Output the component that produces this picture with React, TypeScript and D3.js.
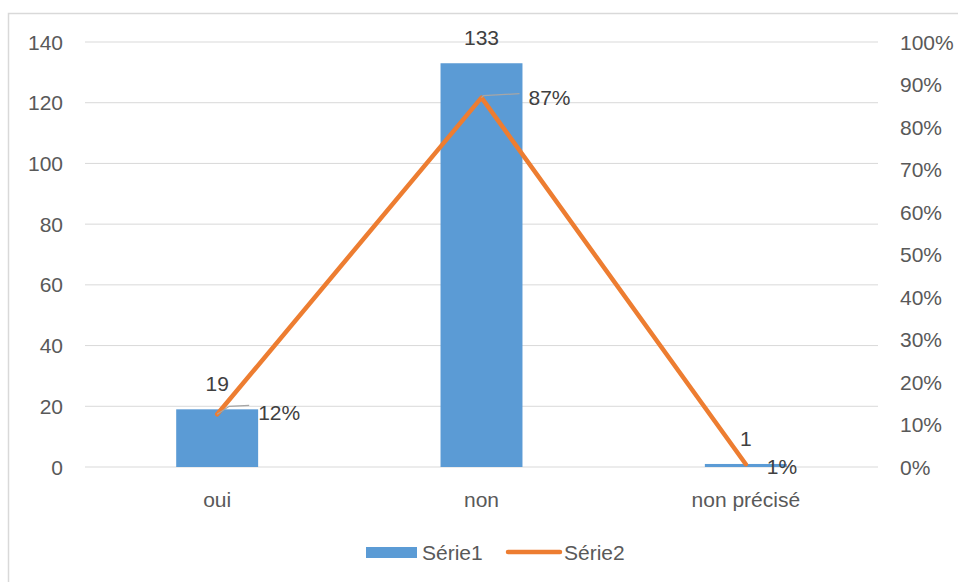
import React from "react";
import * as d3 from "d3";

const categories = ["oui", "non", "non précisé"];
const serie1 = [19, 133, 1];
const serie2 = [0.124, 0.869, 0.0065];
const serie2Labels = ["12%", "87%", "1%"];
const leftTicks = [0, 20, 40, 60, 80, 100, 120, 140];
const rightTicks = [0, 0.1, 0.2, 0.3, 0.4, 0.5, 0.6, 0.7, 0.8, 0.9, 1];
const legendLabels = ["Série1", "Série2"];

const W = 958;
const H = 582;
const plotLeft = 85;
const plotRight = 878;
const plotTop = 42;
const plotBottom = 467;
const FONT = "'Liberation Sans', Arial, sans-serif";
const TEXT = "#595959";
const BLUE = "#5B9BD5";
const ORANGE = "#ED7D31";

export default function App() {
  const x = d3.scaleBand<string>().domain(categories).range([plotLeft, plotRight]).paddingInner(0).paddingOuter(0);
  const yL = d3.scaleLinear().domain([0, 140]).range([plotBottom, plotTop]);
  const yR = d3.scaleLinear().domain([0, 1]).range([plotBottom, plotTop]);
  const barW = x.bandwidth() * 0.31;
  const cx = (c: string) => (x(c) as number) + x.bandwidth() / 2;
  const line = d3
    .line<number>()
    .x((_, i) => cx(categories[i]))
    .y((d) => yR(d));
  const pct = d3.format(".0%");
  const leaders = [
    { dx1: 12, dy1: -8, dx2: 32, dy2: -9, lx: 41, ly: 6 },
    { dx1: 2, dy1: -2, dx2: 38, dy2: -4, lx: 47, ly: 7 },
  ];

  return (
    <svg width={W} height={H} style={{ position: "absolute", left: 0, top: 0 }} fontFamily={FONT}>
      <rect x={0} y={0} width={W} height={H} fill="#fff" />
      <rect x={8.5} y={13.5} width={W + 10} height={H + 10} fill="#fff" stroke="#d9d9d9" strokeWidth={1.5} />
      {leftTicks.map((t) => (
        <g key={"l" + t}>
          <line x1={plotLeft} x2={plotRight} y1={yL(t)} y2={yL(t)} stroke="#d9d9d9" strokeWidth={1} />
          <text x={63} y={yL(t) + 7.5} textAnchor="end" fontSize={21} fill={TEXT}>
            {t}
          </text>
        </g>
      ))}
      {rightTicks.map((t) => (
        <text key={"r" + t} x={900} y={yR(t) + 7.5} textAnchor="start" fontSize={21} fill={TEXT}>
          {pct(t)}
        </text>
      ))}
      {categories.map((c, i) => (
        <g key={c}>
          <rect x={cx(c) - barW / 2} y={yL(serie1[i])} width={barW} height={plotBottom - yL(serie1[i])} fill={BLUE} />
          <text x={cx(c)} y={507} textAnchor="middle" fontSize={21} fill={TEXT}>
            {c}
          </text>
        </g>
      ))}
      <path d={line(serie2) || ""} fill="none" stroke={ORANGE} strokeWidth={4.5} strokeLinejoin="round" strokeLinecap="round" />
      {categories.map((c, i) => (
        <text key={"v" + c} x={cx(c)} y={yL(serie1[i]) - 18} textAnchor="middle" fontSize={21} fill="#404040">
          {serie1[i]}
        </text>
      ))}
      {categories.map((c, i) => {
        const px = cx(c);
        const py = yR(serie2[i]);
        const L = leaders[i];
        return (
          <g key={"p" + c}>
            {L && (
              <path
                d={`M${px},${py} L${px + L.dx1},${py + L.dy1} L${px + L.dx2},${py + L.dy2}`}
                fill="none"
                stroke="#a6a6a6"
                strokeWidth={1.2}
              />
            )}
            <text x={px + (L ? L.lx : 21)} y={py + (L ? L.ly : 10)} textAnchor="start" fontSize={21} fill="#404040">
              {serie2Labels[i]}
            </text>
          </g>
        );
      })}
      <g>
        <rect x={366} y={547} width={51} height={11} fill={BLUE} />
        <text x={422} y={560} fontSize={21} fill={TEXT}>
          {legendLabels[0]}
        </text>
        <line x1={508} x2={560} y1={552} y2={552} stroke={ORANGE} strokeWidth={4.5} strokeLinecap="round" />
        <text x={564} y={560} fontSize={21} fill={TEXT}>
          {legendLabels[1]}
        </text>
      </g>
    </svg>
  );
}
